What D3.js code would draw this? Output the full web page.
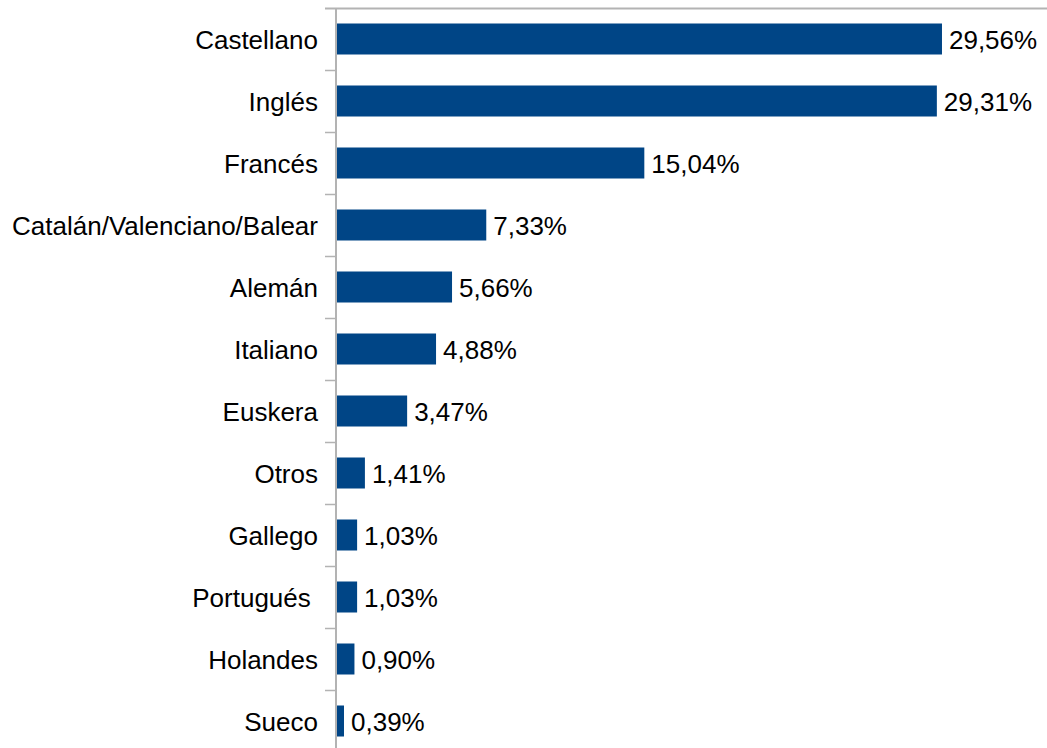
<!DOCTYPE html>
<html>
<head>
<meta charset="utf-8">
<script src="https://cdn.jsdelivr.net/npm/d3@7"></script>
<style>
  html, body { margin: 0; padding: 0; background: #fff; }
  svg { display: block; }
  text { font-family: "Liberation Sans", Arial, sans-serif; fill: #000; }
</style>
</head>
<body>
<svg id="chart" width="1047" height="748"></svg>
<script>
// Languages and their share (%)
const categories = ["Castellano", "Inglés", "Francés", "Catalán/Valenciano/Balear", "Alemán",
  "Italiano", "Euskera", "Otros", "Gallego", "Portugués ", "Holandes", "Sueco"];
const values = [29.56, 29.31, 15.04, 7.33, 5.66, 4.88, 3.47, 1.41, 1.03, 1.03, 0.90, 0.39];
const valueLabels = ["29,56%", "29,31%", "15,04%", "7,33%", "5,66%", "4,88%", "3,47%",
  "1,41%", "1,03%", "1,03%", "0,90%", "0,39%"];

const svg = d3.select("#chart");
const plotLeft = 336, plotTop = 8, bandH = 62;
const fontSize = 26;

const x = d3.scaleLinear().domain([0, 35]).range([plotLeft, plotLeft + 717.5]);
const y = d3.scaleBand().domain(categories)
  .range([plotTop, plotTop + bandH * categories.length])
  .paddingInner(0.5).paddingOuter(0.25);

const axisColor = "#b3b3b3";

// Value axis along the top edge
svg.append("line")
  .attr("x1", plotLeft - 11).attr("x2", 1047)
  .attr("y1", plotTop + 0.5).attr("y2", plotTop + 0.5)
  .attr("stroke", axisColor).attr("stroke-width", 2);

// Category axis line
svg.append("line")
  .attr("x1", plotLeft).attr("x2", plotLeft)
  .attr("y1", plotTop).attr("y2", plotTop + bandH * categories.length)
  .attr("stroke", axisColor).attr("stroke-width", 2);

// Tick marks between categories
const boundaries = d3.range(1, categories.length + 1).map(i => plotTop + bandH * i);
svg.selectAll(".tick").data(boundaries).enter().append("line")
  .attr("class", "tick")
  .attr("x1", plotLeft - 11).attr("x2", plotLeft)
  .attr("y1", d => d + 0.5).attr("y2", d => d + 0.5)
  .attr("stroke", axisColor).attr("stroke-width", 1.5);

// Bars
svg.selectAll(".bar").data(categories).enter().append("rect")
  .attr("class", "bar")
  .attr("x", x(0) + 1)
  .attr("y", d => y(d))
  .attr("width", (d, i) => x(values[i]) - x(0) - 1)
  .attr("height", y.bandwidth())
  .attr("fill", "#004586");

// Category labels
svg.selectAll(".cat").data(categories).enter().append("text")
  .attr("class", "cat")
  .attr("x", plotLeft - 18)
  .attr("y", d => y(d) + y.bandwidth() / 2 + 1)
  .attr("dy", "0.35em")
  .attr("text-anchor", "end")
  .attr("font-size", fontSize)
  .style("white-space", "pre")
  .text(d => d);

// Value labels
svg.selectAll(".val").data(categories).enter().append("text")
  .attr("class", "val")
  .attr("x", (d, i) => x(values[i]) + 7)
  .attr("y", d => y(d) + y.bandwidth() / 2 + 1)
  .attr("dy", "0.35em")
  .attr("font-size", fontSize)
  .text((d, i) => valueLabels[i]);
</script>
</body>
</html>
